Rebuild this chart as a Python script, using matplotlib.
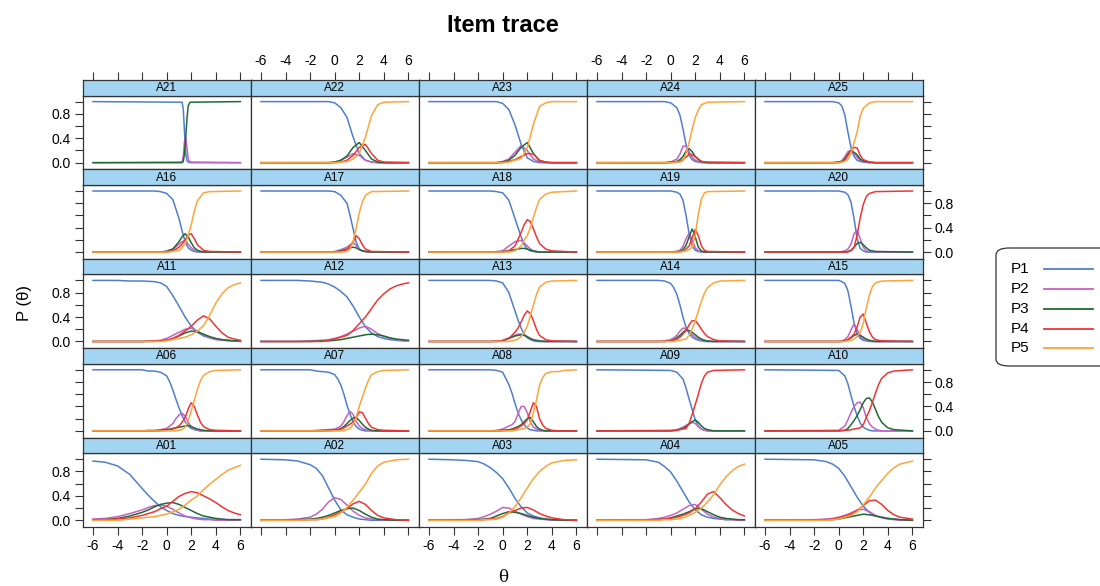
import matplotlib
matplotlib.use("Agg")
import matplotlib.pyplot as plt
from matplotlib.lines import Line2D
from matplotlib.patches import FancyBboxPatch

plt.rcParams['font.family'] = ['Liberation Sans', 'DejaVu Sans']

# ---------------- data ----------------
series = ['P1', 'P2', 'P3', 'P4', 'P5']
colors = ['#4f7fcc', '#c462c2', '#1f6b35', '#ee3535', '#fda43a']
layout = [['A21', 'A22', 'A23', 'A24', 'A25'],
          ['A16', 'A17', 'A18', 'A19', 'A20'],
          ['A11', 'A12', 'A13', 'A14', 'A15'],
          ['A06', 'A07', 'A08', 'A09', 'A10'],
          ['A01', 'A02', 'A03', 'A04', 'A05']]
x_ticks = [-6, -4, -2, 0, 2, 4, 6]
y_ticks = [0.0, 0.2, 0.4, 0.6, 0.8, 1.0]
y_ticklabels = ['0.0', '', '0.4', '', '0.8', '']

A21_theta = [-6, 1.25, 1.35, 1.45, 1.55, 1.65, 1.75, 1.9, 6]
A21_P = [[1, 0.99, 0.88, 0.5, 0.15, 0.03, 0.01, 0, 0],
         [0, 0.01, 0.1, 0.35, 0.42, 0.25, 0.06, 0.01, 0],
         [0, 0, 0.02, 0.15, 0.43, 0.72, 0.93, 0.99, 1]]

A22_theta = [-6, -0.5, 0, 0.5, 1, 1.5, 2, 2.5, 3, 3.5, 4, 6]
A22_P = [[1, 1, 0.98, 0.9, 0.74, 0.42, 0.15, 0.04, 0.01, 0, 0, 0],
         [0, 0, 0.01, 0.04, 0.09, 0.15, 0.12, 0.04, 0.01, 0, 0, 0],
         [0, 0, 0.01, 0.04, 0.11, 0.25, 0.33, 0.2, 0.06, 0.01, 0, 0],
         [0, 0, 0, 0.01, 0.04, 0.12, 0.25, 0.3, 0.15, 0.04, 0.01, 0],
         [0, 0, 0, 0.01, 0.02, 0.06, 0.15, 0.42, 0.77, 0.95, 0.99, 1]]

A23_theta = [-6, -0.5, 0, 0.5, 1, 1.5, 2, 2.5, 3, 3.5, 4, 6]
A23_P = [[1, 1, 0.97, 0.87, 0.62, 0.3, 0.08, 0.02, 0, 0, 0, 0],
         [0, 0, 0.02, 0.06, 0.17, 0.28, 0.2, 0.06, 0.01, 0, 0, 0],
         [0, 0, 0.01, 0.04, 0.12, 0.25, 0.33, 0.15, 0.03, 0.01, 0, 0],
         [0, 0, 0, 0.02, 0.05, 0.1, 0.15, 0.14, 0.04, 0.01, 0, 0],
         [0, 0, 0, 0.01, 0.04, 0.07, 0.24, 0.63, 0.92, 0.98, 1, 1]]

A24_theta = [-6, -0.5, 0, 0.5, 0.75, 1, 1.25, 1.5, 1.75, 2, 2.25, 2.5, 3, 6]
A24_P = [[1, 1, 0.98, 0.9, 0.78, 0.55, 0.3, 0.12, 0.05, 0.02, 0.01, 0, 0, 0],
         [0, 0, 0.01, 0.06, 0.14, 0.27, 0.27, 0.18, 0.09, 0.04, 0.02, 0.01, 0, 0],
         [0, 0, 0.01, 0.02, 0.05, 0.1, 0.19, 0.23, 0.18, 0.1, 0.05, 0.02, 0, 0],
         [0, 0, 0, 0.01, 0.02, 0.05, 0.09, 0.14, 0.13, 0.1, 0.06, 0.02, 0.01, 0],
         [0, 0, 0, 0.01, 0.01, 0.03, 0.15, 0.33, 0.55, 0.74, 0.86, 0.95, 0.99, 1]]

A25_theta = [-6, -0.5, 0, 0.25, 0.5, 0.75, 1, 1.25, 1.5, 1.75, 2, 2.5, 3, 6]
A25_P = [[1, 1, 0.98, 0.93, 0.78, 0.5, 0.25, 0.1, 0.04, 0.02, 0.01, 0, 0, 0],
         [0, 0, 0.01, 0.03, 0.1, 0.18, 0.2, 0.15, 0.09, 0.04, 0.02, 0, 0, 0],
         [0, 0, 0.01, 0.02, 0.06, 0.14, 0.2, 0.17, 0.13, 0.06, 0.03, 0.01, 0, 0],
         [0, 0, 0, 0.01, 0.04, 0.12, 0.2, 0.25, 0.24, 0.12, 0.05, 0.01, 0, 0],
         [0, 0, 0, 0.01, 0.02, 0.06, 0.15, 0.33, 0.5, 0.76, 0.89, 0.98, 1, 1]]

A16_theta = [-6, -1, -0.5, 0, 0.5, 1, 1.25, 1.5, 1.75, 2, 2.25, 2.5, 3, 3.5, 6]
A16_P = [[1, 1, 0.99, 0.96, 0.86, 0.55, 0.35, 0.17, 0.07, 0.03, 0.01, 0, 0, 0, 0],
         [0, 0, 0, 0.02, 0.05, 0.13, 0.17, 0.19, 0.13, 0.07, 0.03, 0.01, 0, 0, 0],
         [0, 0, 0, 0.01, 0.05, 0.17, 0.25, 0.3, 0.25, 0.15, 0.07, 0.03, 0, 0, 0],
         [0, 0, 0, 0, 0.02, 0.08, 0.13, 0.2, 0.28, 0.3, 0.22, 0.12, 0.03, 0.01, 0],
         [0, 0, 0, 0, 0.01, 0.03, 0.07, 0.14, 0.27, 0.45, 0.67, 0.84, 0.97, 0.99, 1]]

A17_theta = [-6, -0.5, 0, 0.5, 1, 1.25, 1.5, 1.75, 2, 2.25, 2.5, 3, 6]
A17_P = [[1, 1, 0.99, 0.93, 0.8, 0.6, 0.38, 0.16, 0.05, 0.02, 0.01, 0, 0],
         [0, 0, 0.01, 0.04, 0.08, 0.12, 0.15, 0.11, 0.05, 0.02, 0.01, 0, 0],
         [0, 0, 0, 0.02, 0.05, 0.07, 0.08, 0.07, 0.04, 0.02, 0.01, 0, 0],
         [0, 0, 0, 0.01, 0.04, 0.1, 0.17, 0.27, 0.22, 0.12, 0.05, 0.01, 0],
         [0, 0, 0, 0, 0.01, 0.05, 0.18, 0.39, 0.64, 0.82, 0.93, 0.99, 1]]

A18_theta = [-6, -1, -0.5, 0, 0.5, 1, 1.5, 1.75, 2, 2.25, 2.5, 2.75, 3, 3.5, 4, 6]
A18_P = [[1, 1, 0.99, 0.97, 0.85, 0.55, 0.25, 0.12, 0.05, 0.02, 0.01, 0, 0, 0, 0, 0],
         [0, 0, 0.01, 0.02, 0.1, 0.17, 0.19, 0.15, 0.1, 0.05, 0.02, 0.01, 0, 0, 0, 0],
         [0, 0, 0, 0.01, 0.02, 0.04, 0.06, 0.06, 0.05, 0.03, 0.02, 0.01, 0, 0, 0, 0],
         [0, 0, 0, 0, 0.02, 0.1, 0.32, 0.45, 0.53, 0.5, 0.38, 0.25, 0.14, 0.05, 0.02, 0],
         [0, 0, 0, 0, 0, 0.02, 0.1, 0.2, 0.27, 0.4, 0.57, 0.73, 0.86, 0.95, 0.98, 1]]

A19_theta = [-6, 0, 0.5, 0.75, 1, 1.25, 1.5, 1.75, 2, 2.25, 2.5, 2.75, 3, 6]
A19_P = [[1, 1, 0.98, 0.95, 0.85, 0.6, 0.3, 0.1, 0.03, 0.01, 0, 0, 0, 0],
         [0, 0, 0.01, 0.03, 0.09, 0.22, 0.31, 0.2, 0.07, 0.02, 0.01, 0, 0, 0],
         [0, 0, 0.01, 0.01, 0.04, 0.11, 0.25, 0.38, 0.25, 0.08, 0.02, 0, 0, 0],
         [0, 0, 0, 0.01, 0.01, 0.05, 0.1, 0.24, 0.37, 0.27, 0.1, 0.03, 0.01, 0],
         [0, 0, 0, 0, 0.01, 0.02, 0.04, 0.08, 0.28, 0.62, 0.87, 0.97, 0.99, 1]]

A20_theta = [-6, 0, 0.5, 0.75, 1, 1.25, 1.5, 1.75, 2, 2.25, 2.5, 3, 6]
A20_P = [[1, 1, 0.98, 0.94, 0.82, 0.55, 0.22, 0.06, 0.02, 0, 0, 0, 0],
         [0, 0, 0.02, 0.05, 0.13, 0.3, 0.36, 0.22, 0.08, 0.02, 0.01, 0, 0],
         [0, 0, 0, 0.01, 0.03, 0.08, 0.14, 0.16, 0.12, 0.07, 0.03, 0.01, 0],
         [0, 0, 0, 0, 0.02, 0.07, 0.28, 0.56, 0.78, 0.91, 0.96, 0.99, 1]]

A11_theta = [-6, -4, -3, -2, -1, -0.5, 0, 0.5, 1, 1.5, 2, 2.5, 3, 3.5, 4, 4.5, 5, 5.5, 6]
A11_P = [[1, 1, 0.99, 0.99, 0.98, 0.96, 0.9, 0.75, 0.58, 0.4, 0.25, 0.15, 0.09, 0.06, 0.04, 0.03, 0.02, 0.01, 0.01],
         [0, 0, 0, 0, 0.01, 0.02, 0.05, 0.1, 0.15, 0.2, 0.22, 0.17, 0.11, 0.06, 0.03, 0.02, 0.01, 0.01, 0],
         [0, 0, 0, 0, 0, 0.01, 0.02, 0.05, 0.09, 0.14, 0.17, 0.16, 0.12, 0.08, 0.05, 0.03, 0.02, 0.01, 0.01],
         [0, 0, 0, 0, 0.01, 0.01, 0.02, 0.05, 0.1, 0.17, 0.25, 0.35, 0.42, 0.37, 0.25, 0.14, 0.07, 0.04, 0.02],
         [0, 0, 0, 0, 0, 0, 0.01, 0.03, 0.05, 0.07, 0.11, 0.17, 0.26, 0.43, 0.63, 0.78, 0.88, 0.93, 0.96]]

A12_theta = [-6, -3, -2, -1, -0.5, 0, 0.5, 1, 1.5, 2, 2.5, 3, 3.5, 4, 4.5, 5, 5.5, 6]
A12_P = [[1, 1, 0.99, 0.97, 0.94, 0.89, 0.82, 0.73, 0.58, 0.4, 0.24, 0.14, 0.08, 0.05, 0.03, 0.02, 0.01, 0.01],
         [0, 0, 0.01, 0.02, 0.03, 0.05, 0.08, 0.12, 0.17, 0.22, 0.25, 0.2, 0.13, 0.08, 0.05, 0.03, 0.02, 0.01],
         [0, 0, 0, 0.01, 0.01, 0.02, 0.03, 0.05, 0.07, 0.09, 0.11, 0.12, 0.11, 0.09, 0.06, 0.04, 0.03, 0.02],
         [0, 0, 0, 0, 0.02, 0.04, 0.07, 0.1, 0.18, 0.29, 0.4, 0.54, 0.68, 0.78, 0.86, 0.91, 0.94, 0.96]]

A13_theta = [-6, -1, -0.5, 0, 0.5, 1, 1.25, 1.5, 1.75, 2, 2.25, 2.5, 2.75, 3, 3.5, 4, 6]
A13_P = [[1, 1, 0.99, 0.96, 0.8, 0.5, 0.35, 0.22, 0.12, 0.06, 0.03, 0.01, 0, 0, 0, 0, 0],
         [0, 0, 0, 0.02, 0.06, 0.1, 0.12, 0.12, 0.1, 0.07, 0.04, 0.02, 0.01, 0, 0, 0, 0],
         [0, 0, 0, 0.01, 0.05, 0.09, 0.1, 0.11, 0.1, 0.08, 0.05, 0.03, 0.02, 0.01, 0, 0, 0],
         [0, 0, 0.01, 0.01, 0.05, 0.15, 0.22, 0.32, 0.43, 0.5, 0.46, 0.34, 0.2, 0.1, 0.03, 0.01, 0],
         [0, 0, 0, 0, 0, 0.02, 0.04, 0.08, 0.15, 0.25, 0.42, 0.6, 0.77, 0.89, 0.97, 0.99, 1]]

A14_theta = [-6, -1, -0.5, 0, 0.25, 0.5, 0.75, 1, 1.25, 1.5, 1.75, 2, 2.25, 2.5, 2.75, 3, 3.5, 4, 6]
A14_P = [[1, 1, 0.99, 0.95, 0.88, 0.77, 0.6, 0.4, 0.23, 0.13, 0.07, 0.04, 0.02, 0.01, 0, 0, 0, 0, 0],
         [0, 0, 0.01, 0.03, 0.06, 0.1, 0.17, 0.22, 0.21, 0.16, 0.11, 0.07, 0.04, 0.02, 0.01, 0, 0, 0, 0],
         [0, 0, 0, 0.01, 0.03, 0.06, 0.1, 0.15, 0.19, 0.18, 0.15, 0.11, 0.07, 0.04, 0.02, 0.01, 0, 0, 0],
         [0, 0, 0, 0.01, 0.02, 0.04, 0.07, 0.12, 0.18, 0.27, 0.34, 0.34, 0.28, 0.2, 0.13, 0.08, 0.03, 0.01, 0],
         [0, 0, 0, 0, 0, 0.01, 0.02, 0.03, 0.04, 0.1, 0.2, 0.34, 0.5, 0.66, 0.79, 0.88, 0.96, 0.99, 1]]

A15_theta = [-6, 0, 0.25, 0.5, 0.75, 1, 1.25, 1.5, 1.75, 2, 2.25, 2.5, 2.75, 3, 3.5, 6]
A15_P = [[1, 1, 0.98, 0.95, 0.83, 0.58, 0.3, 0.13, 0.05, 0.02, 0.01, 0, 0, 0, 0, 0],
         [0, 0, 0.01, 0.03, 0.08, 0.19, 0.29, 0.2, 0.09, 0.04, 0.02, 0.01, 0, 0, 0, 0],
         [0, 0, 0, 0.01, 0.03, 0.06, 0.1, 0.12, 0.1, 0.07, 0.04, 0.02, 0.01, 0, 0, 0],
         [0, 0, 0, 0.01, 0.03, 0.07, 0.12, 0.24, 0.4, 0.45, 0.3, 0.16, 0.07, 0.03, 0.01, 0],
         [0, 0, 0, 0, 0.01, 0.02, 0.04, 0.08, 0.15, 0.3, 0.55, 0.76, 0.9, 0.96, 0.99, 1]]

A06_theta = [-6, -2, -1.5, -1, -0.5, 0, 0.25, 0.5, 0.75, 1, 1.25, 1.5, 1.75, 2, 2.25, 2.5, 2.75, 3, 3.5, 4, 6]
A06_P = [[1, 1, 0.98, 0.98, 0.96, 0.9, 0.8, 0.67, 0.52, 0.38, 0.25, 0.15, 0.08, 0.04, 0.02, 0.01, 0, 0, 0, 0, 0],
         [0, 0, 0.01, 0.01, 0.02, 0.04, 0.08, 0.12, 0.2, 0.26, 0.29, 0.24, 0.14, 0.07, 0.03, 0.01, 0, 0, 0, 0, 0],
         [0, 0, 0, 0, 0.01, 0.02, 0.03, 0.04, 0.05, 0.06, 0.07, 0.08, 0.09, 0.07, 0.05, 0.03, 0.02, 0.01, 0, 0, 0],
         [0, 0, 0, 0, 0, 0.01, 0.02, 0.03, 0.05, 0.08, 0.14, 0.22, 0.36, 0.46, 0.4, 0.26, 0.14, 0.07, 0.02, 0.01, 0],
         [0, 0, 0, 0, 0, 0, 0, 0, 0, 0.01, 0.02, 0.06, 0.16, 0.33, 0.5, 0.68, 0.82, 0.91, 0.97, 0.99, 1]]

A07_theta = [-6, -2, -1.5, -0.5, 0, 0.25, 0.5, 0.75, 1, 1.25, 1.5, 1.75, 2, 2.25, 2.5, 2.75, 3, 3.5, 4, 6]
A07_P = [[1, 1, 0.98, 0.96, 0.92, 0.85, 0.75, 0.6, 0.42, 0.27, 0.15, 0.07, 0.03, 0.01, 0, 0, 0, 0, 0, 0],
         [0, 0, 0.01, 0.02, 0.03, 0.05, 0.08, 0.15, 0.25, 0.32, 0.27, 0.16, 0.08, 0.04, 0.02, 0.01, 0, 0, 0, 0],
         [0, 0, 0, 0.01, 0.01, 0.02, 0.04, 0.07, 0.12, 0.17, 0.21, 0.22, 0.17, 0.11, 0.06, 0.03, 0.01, 0, 0, 0],
         [0, 0, 0, 0, 0.01, 0.02, 0.03, 0.05, 0.08, 0.11, 0.15, 0.22, 0.31, 0.3, 0.21, 0.12, 0.06, 0.02, 0.01, 0],
         [0, 0, 0, 0, 0, 0, 0, 0.01, 0.02, 0.04, 0.1, 0.22, 0.4, 0.55, 0.7, 0.83, 0.92, 0.97, 0.99, 1]]

A08_theta = [-6, -1, -0.5, 0, 0.5, 0.75, 1, 1.25, 1.5, 1.75, 2, 2.25, 2.5, 2.75, 3, 3.25, 3.5, 4, 4.5, 5, 6]
A08_P = [[1, 1, 0.99, 0.96, 0.76, 0.62, 0.45, 0.3, 0.18, 0.1, 0.05, 0.02, 0.01, 0, 0, 0, 0, 0, 0, 0, 0],
         [0, 0, 0.01, 0.03, 0.08, 0.1, 0.15, 0.28, 0.4, 0.4, 0.3, 0.15, 0.06, 0.03, 0.01, 0, 0, 0, 0, 0, 0],
         [0, 0, 0, 0.01, 0.02, 0.03, 0.05, 0.07, 0.1, 0.15, 0.2, 0.22, 0.15, 0.07, 0.03, 0.01, 0, 0, 0, 0, 0],
         [0, 0, 0, 0, 0.01, 0.02, 0.03, 0.05, 0.08, 0.12, 0.18, 0.32, 0.46, 0.4, 0.2, 0.1, 0.04, 0.01, 0, 0, 0],
         [0, 0, 0, 0, 0, 0, 0.01, 0.02, 0.03, 0.04, 0.06, 0.12, 0.3, 0.5, 0.75, 0.87, 0.94, 0.97, 0.97, 0.99, 1]]

A09_theta = [-6, 0, 0.5, 1, 1.25, 1.5, 1.75, 2, 2.25, 2.5, 2.75, 3, 3.5, 6]
A09_P = [[1, 0.99, 0.96, 0.85, 0.7, 0.52, 0.35, 0.18, 0.08, 0.03, 0.01, 0, 0, 0],
         [0, 0.01, 0.02, 0.06, 0.09, 0.12, 0.14, 0.12, 0.07, 0.03, 0.01, 0, 0, 0],
         [0, 0, 0.01, 0.04, 0.07, 0.11, 0.15, 0.18, 0.14, 0.08, 0.04, 0.02, 0, 0],
         [0, 0, 0.01, 0.03, 0.04, 0.12, 0.27, 0.43, 0.6, 0.78, 0.9, 0.96, 0.99, 1]]

A10_theta = [-6, 0, 0.5, 0.75, 1, 1.25, 1.5, 1.75, 2, 2.25, 2.5, 2.75, 3, 3.25, 3.5, 4, 4.5, 6]
A10_P = [[1, 0.99, 0.9, 0.77, 0.58, 0.4, 0.25, 0.13, 0.06, 0.03, 0.01, 0, 0, 0, 0, 0, 0, 0],
         [0, 0.01, 0.08, 0.18, 0.3, 0.4, 0.46, 0.47, 0.38, 0.22, 0.12, 0.06, 0.03, 0.01, 0, 0, 0, 0],
         [0, 0, 0.01, 0.04, 0.1, 0.17, 0.25, 0.35, 0.46, 0.53, 0.54, 0.47, 0.35, 0.23, 0.14, 0.05, 0.02, 0],
         [0, 0, 0.01, 0.01, 0.02, 0.03, 0.04, 0.05, 0.1, 0.22, 0.33, 0.47, 0.62, 0.76, 0.86, 0.95, 0.98, 1]]

A01_theta = [-6, -5, -4, -3, -2, -1.5, -1, -0.5, 0, 0.5, 1, 1.5, 2, 2.5, 3, 3.5, 4, 4.5, 5, 5.5, 6]
A01_P = [[0.97, 0.95, 0.89, 0.75, 0.52, 0.41, 0.31, 0.22, 0.16, 0.11, 0.08, 0.06, 0.05, 0.04, 0.03, 0.02, 0.02, 0.01, 0.01, 0.01, 0.01],
         [0.02, 0.03, 0.06, 0.11, 0.17, 0.21, 0.24, 0.25, 0.23, 0.18, 0.12, 0.07, 0.04, 0.02, 0.01, 0.01, 0, 0, 0, 0, 0],
         [0.01, 0.01, 0.03, 0.07, 0.13, 0.17, 0.22, 0.26, 0.28, 0.29, 0.26, 0.21, 0.16, 0.11, 0.07, 0.05, 0.03, 0.02, 0.01, 0.01, 0.01],
         [0, 0.01, 0.02, 0.04, 0.08, 0.11, 0.14, 0.19, 0.23, 0.31, 0.39, 0.44, 0.47, 0.45, 0.4, 0.35, 0.29, 0.22, 0.16, 0.12, 0.09],
         [0, 0, 0, 0.02, 0.04, 0.05, 0.06, 0.08, 0.1, 0.14, 0.18, 0.25, 0.33, 0.4, 0.5, 0.59, 0.67, 0.75, 0.82, 0.86, 0.9]]

A02_theta = [-6, -4, -3, -2, -1.5, -1, -0.5, 0, 0.5, 1, 1.5, 2, 2.5, 3, 3.5, 4, 5, 6]
A02_P = [[1, 0.99, 0.97, 0.91, 0.85, 0.73, 0.53, 0.33, 0.17, 0.09, 0.05, 0.02, 0.01, 0, 0, 0, 0, 0],
         [0, 0.01, 0.02, 0.05, 0.1, 0.18, 0.3, 0.37, 0.34, 0.25, 0.15, 0.08, 0.04, 0.02, 0.01, 0, 0, 0],
         [0, 0, 0.01, 0.02, 0.03, 0.05, 0.08, 0.12, 0.16, 0.19, 0.2, 0.16, 0.1, 0.05, 0.02, 0.01, 0, 0],
         [0, 0, 0, 0.01, 0.01, 0.02, 0.05, 0.09, 0.14, 0.19, 0.27, 0.31, 0.26, 0.16, 0.08, 0.04, 0.01, 0],
         [0, 0, 0, 0.01, 0.01, 0.02, 0.04, 0.06, 0.12, 0.21, 0.33, 0.46, 0.59, 0.77, 0.89, 0.95, 0.99, 1]]

A03_theta = [-6, -4, -3, -2, -1.5, -1, -0.5, 0, 0.5, 1, 1.5, 2, 2.5, 3, 3.5, 4, 5, 6]
A03_P = [[1, 0.99, 0.98, 0.96, 0.92, 0.86, 0.78, 0.68, 0.53, 0.36, 0.22, 0.12, 0.07, 0.04, 0.02, 0.01, 0, 0],
         [0, 0.01, 0.01, 0.03, 0.06, 0.1, 0.15, 0.21, 0.2, 0.15, 0.1, 0.06, 0.03, 0.02, 0.01, 0, 0, 0],
         [0, 0, 0.01, 0.01, 0.02, 0.03, 0.07, 0.11, 0.14, 0.13, 0.11, 0.08, 0.05, 0.03, 0.02, 0.01, 0, 0],
         [0, 0, 0, 0, 0.01, 0.02, 0.03, 0.06, 0.12, 0.16, 0.2, 0.21, 0.17, 0.11, 0.07, 0.04, 0.01, 0],
         [0, 0, 0, 0, 0.01, 0.01, 0.02, 0.05, 0.12, 0.22, 0.37, 0.53, 0.68, 0.8, 0.88, 0.94, 0.98, 0.99]]

A04_theta = [-6, -2, -1, -0.5, 0, 0.5, 1, 1.5, 2, 2.5, 3, 3.5, 4, 4.5, 5, 5.5, 6]
A04_P = [[1, 0.99, 0.95, 0.88, 0.79, 0.64, 0.47, 0.3, 0.17, 0.09, 0.05, 0.03, 0.02, 0.01, 0.01, 0, 0],
         [0, 0.01, 0.03, 0.05, 0.08, 0.12, 0.18, 0.24, 0.26, 0.18, 0.1, 0.05, 0.03, 0.01, 0.01, 0, 0],
         [0, 0, 0.01, 0.02, 0.04, 0.07, 0.1, 0.14, 0.19, 0.19, 0.14, 0.09, 0.05, 0.03, 0.02, 0.01, 0.01],
         [0, 0, 0.01, 0.02, 0.03, 0.05, 0.08, 0.12, 0.19, 0.3, 0.43, 0.47, 0.37, 0.26, 0.17, 0.11, 0.07],
         [0, 0, 0, 0.01, 0.01, 0.02, 0.04, 0.08, 0.13, 0.2, 0.3, 0.42, 0.58, 0.71, 0.81, 0.88, 0.92]]

A05_theta = [-6, -2, -1, -0.5, 0, 0.5, 1, 1.5, 2, 2.5, 3, 3.5, 4, 4.5, 5, 6]
A05_P = [[1, 0.99, 0.96, 0.92, 0.85, 0.72, 0.55, 0.38, 0.23, 0.13, 0.07, 0.05, 0.03, 0.02, 0.01, 0],
         [0, 0.01, 0.02, 0.03, 0.05, 0.08, 0.12, 0.17, 0.18, 0.14, 0.08, 0.04, 0.02, 0.01, 0, 0],
         [0, 0, 0.01, 0.01, 0.02, 0.04, 0.06, 0.08, 0.1, 0.09, 0.07, 0.05, 0.03, 0.02, 0.01, 0],
         [0, 0, 0.01, 0.02, 0.04, 0.07, 0.1, 0.16, 0.24, 0.32, 0.33, 0.26, 0.16, 0.09, 0.05, 0.02],
         [0, 0, 0, 0.01, 0.02, 0.05, 0.08, 0.14, 0.25, 0.38, 0.53, 0.65, 0.77, 0.86, 0.92, 0.97]]

items = {
    'A01': (A01_theta, A01_P), 'A02': (A02_theta, A02_P), 'A03': (A03_theta, A03_P),
    'A04': (A04_theta, A04_P), 'A05': (A05_theta, A05_P), 'A06': (A06_theta, A06_P),
    'A07': (A07_theta, A07_P), 'A08': (A08_theta, A08_P), 'A09': (A09_theta, A09_P),
    'A10': (A10_theta, A10_P), 'A11': (A11_theta, A11_P), 'A12': (A12_theta, A12_P),
    'A13': (A13_theta, A13_P), 'A14': (A14_theta, A14_P), 'A15': (A15_theta, A15_P),
    'A16': (A16_theta, A16_P), 'A17': (A17_theta, A17_P), 'A18': (A18_theta, A18_P),
    'A19': (A19_theta, A19_P), 'A20': (A20_theta, A20_P), 'A21': (A21_theta, A21_P),
    'A22': (A22_theta, A22_P), 'A23': (A23_theta, A23_P), 'A24': (A24_theta, A24_P),
    'A25': (A25_theta, A25_P),
}

# ---------------- layout ----------------
W, H = 1100, 586
fig = plt.figure(figsize=(W / 100, H / 100), dpi=100)
fig.patch.set_facecolor('white')

def fx(px):
    return px / W

def fy(py):
    return 1 - py / H

LEFT, PW = 82.7, 168.0
TOP, RH, SH = 80.0, 89.4, 15.5
XLIM = (-6.84, 6.84)
YLIM = (-0.11, 1.10)
EDGE = '#333333'
STRIP = '#a3d4f1'
TICK_FS = 10

for r, row in enumerate(layout):
    for c, name in enumerate(row):
        x0 = LEFT + PW * c
        stop = TOP + RH * r
        ax = fig.add_axes([fx(x0), fy(stop + RH), PW / W, (RH - SH) / H])
        st = fig.add_axes([fx(x0), fy(stop + SH), PW / W, SH / H])
        theta, probs = items[name]
        for k, p in enumerate(probs):
            ax.plot(theta, p, color=colors[k], lw=1.1, solid_joinstyle='round')
        ax.set_xlim(XLIM)
        ax.set_ylim(YLIM)
        for sp in ax.spines.values():
            sp.set_color(EDGE)
            sp.set_linewidth(0.9)
        ax.set_xticks(x_ticks)
        ax.set_yticks(y_ticks)
        ax.set_yticklabels(y_ticklabels)
        ax.set_xticklabels([str(v) for v in x_ticks])
        ax.tick_params(axis='both', direction='out', length=5.5, width=0.8,
                       colors=EDGE, labelcolor='black', labelsize=TICK_FS, pad=3,
                       bottom=(r == 4), labelbottom=(r == 4 and c % 2 == 0),
                       top=False, labeltop=False,
                       left=(c == 0), labelleft=(c == 0 and r % 2 == 0),
                       right=(c == 4), labelright=(c == 4 and r % 2 == 1))
        # strip
        st.set_facecolor(STRIP)
        st.set_xlim(XLIM)
        st.set_ylim(0, 1)
        st.set_yticks([])
        for sp in st.spines.values():
            sp.set_color(EDGE)
            sp.set_linewidth(0.9)
        st.set_xticks(x_ticks)
        st.set_xticklabels([str(v) for v in x_ticks])
        st.tick_params(axis='x', direction='out', length=5.5, width=0.8,
                       colors=EDGE, labelcolor='black', labelsize=TICK_FS, pad=3,
                       bottom=False, labelbottom=False,
                       top=(r == 0), labeltop=(r == 0 and c % 2 == 1))
        st.text(0.5, 0.47, name, transform=st.transAxes, ha='center', va='center',
                fontsize=8.5, color='black')

# titles / labels
fig.text(fx(502.7), fy(26), 'Item trace', ha='center', va='center', fontsize=17,
         fontweight='bold', family=['Liberation Sans Narrow', 'Liberation Sans', 'DejaVu Sans'])
fig.text(fx(502.7), fy(578), 'θ', ha='center', va='center', fontsize=12,
         family=['DejaVu Serif'])
fig.text(fx(24), fy(303), 'P (θ)', ha='center', va='center', fontsize=12, rotation=90)

# legend (key) at the right
box = FancyBboxPatch((fx(996), fy(366)), fx(1120) - fx(996), fy(248) - fy(366),
                     boxstyle='round,pad=0,rounding_size=0.012', transform=fig.transFigure,
                     facecolor='white', edgecolor='#333333', linewidth=0.9)
fig.add_artist(box)
for k, (lab, col) in enumerate(zip(series, colors)):
    yy = fy(269.3 + 19.75 * k)
    fig.text(fx(1011), yy, lab, ha='left', va='center', fontsize=11)
    fig.add_artist(Line2D([fx(1044), fx(1093)], [yy, yy], color=col, lw=1.3,
                          transform=fig.transFigure))

fig.savefig('out.png', dpi=100)
